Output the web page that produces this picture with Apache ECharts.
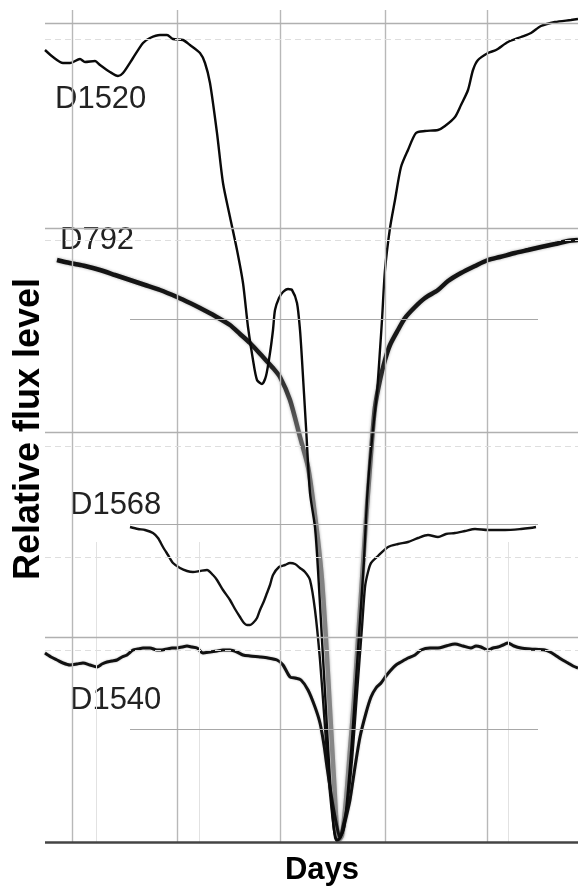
<!DOCTYPE html>
<html>
<head>
<meta charset="utf-8">
<script src="https://cdn.jsdelivr.net/npm/echarts@6/dist/echarts.min.js"></script>
<style>html,body{margin:0;padding:0;background:#fff}#c{width:578px;height:888px}</style>
</head>
<body>
<div id="c"></div>
<script>
// ---- data (days, relative flux; arbitrary units) ----
const d1520Days = [0,0.8,1.8,2.5,3.5,4.0,5.0,5.5,6.5,7.3,7.8,8.8,9.8,10.5,11.5,12.2,12.8,13.8,14.5,15.5,16.0,16.5,17.2,17.8,18.5,19.2,19.8,20.3,20.8,21.2,21.7,22.1,22.5,22.8,23.0,23.4,23.8,24.3,24.7,25.2,25.5,25.7,26.1,26.5,27.0,27.3,27.7,28.1,28.5,28.9,29.2,29.5,29.9,30.3,30.7,31.1,31.5,31.9,32.2,32.5,32.9,33.2,33.5,33.7,34.0,34.5,35.0,35.6,36.3,37.1,38.0,39.3,40.0,41.0,41.6,42.3,42.8,43.3,44.3,45.1,46.3,47.6,48.6,49.6,51.0,52.6,53.3];
const d1520Flux = [3.96,3.925,3.895,3.895,3.915,3.90,3.905,3.885,3.85,3.83,3.845,3.92,3.995,4.02,4.035,4.035,4.015,4.01,3.985,3.945,3.895,3.795,3.545,3.295,3.125,2.96,2.795,2.575,2.41,2.31,2.29,2.33,2.445,2.56,2.66,2.72,2.75,2.765,2.76,2.695,2.56,2.41,2.075,1.745,1.575,1.36,1.01,0.66,0.31,0.06,0.01,0.02,0.07,0.26,0.51,0.81,1.11,1.41,1.71,1.91,2.11,2.245,2.46,2.61,2.86,3.07,3.21,3.375,3.46,3.545,3.555,3.56,3.58,3.625,3.685,3.76,3.86,3.91,3.945,3.96,4.0,4.025,4.045,4.08,4.10,4.11,4.115];

const d792Days = [1.2,2.0,3.0,4.0,5.5,7.0,8.5,10.0,11.5,13.2,14.5,15.5,17.0,18.5,19.5,20.5,21.8,22.8,23.5,24.5,25.5,26.3,26.8,27.3,27.7,28.1,28.5,28.9,29.2,29.4,29.7,30.1,30.5,30.9,31.3,31.7,32.1,32.4,32.7,33.0,33.5,34.0,34.5,35.3,36.0,37.0,38.0,39.3,40.3,41.6,43.0,44.3,45.5,47.0,48.3,49.6,51.0,52.3,53.3];
const d792Flux = [2.91,2.90,2.89,2.88,2.86,2.835,2.81,2.785,2.76,2.725,2.695,2.67,2.63,2.585,2.54,2.495,2.425,2.37,2.325,2.21,2.025,1.875,1.71,1.51,1.31,1.01,0.66,0.31,0.06,0.01,0.035,0.21,0.46,0.71,1.01,1.31,1.61,1.81,2.01,2.175,2.31,2.41,2.485,2.56,2.62,2.675,2.72,2.76,2.805,2.845,2.88,2.91,2.925,2.945,2.96,2.975,2.99,3.005,3.01];

const d1568Days = [8.5,9.3,10.0,10.8,11.3,11.8,12.3,12.8,13.5,14.2,14.8,15.5,16.2,16.8,17.2,17.8,18.5,19.0,19.5,19.9,20.2,20.5,20.8,21.2,21.5,21.9,22.2,22.5,22.8,23.4,24.0,24.5,25.0,25.5,26.0,26.5,27.0,27.5,28.0,28.5,29.0,29.2,29.5,29.8,30.2,30.7,31.2,31.7,32.0,32.3,32.6,33.3,34.3,35.3,36.3,37.3,38.3,39.3,40.1,41.0,42.0,43.0,44.3,46.0,47.6,48.5,49.1];
const d1568Flux = [1.575,1.565,1.56,1.545,1.52,1.475,1.435,1.395,1.37,1.355,1.35,1.355,1.36,1.335,1.31,1.26,1.21,1.165,1.125,1.095,1.085,1.085,1.095,1.12,1.16,1.205,1.245,1.285,1.335,1.375,1.385,1.395,1.39,1.37,1.35,1.31,1.16,0.91,0.575,0.245,0.025,0.005,0.02,0.085,0.175,0.41,0.745,1.075,1.275,1.35,1.395,1.43,1.475,1.49,1.50,1.52,1.535,1.525,1.54,1.545,1.555,1.565,1.56,1.56,1.565,1.57,1.575];

const d1540Days = [0,0.6,1.2,1.8,2.5,3.2,3.8,4.5,5.2,5.7,6.2,6.7,7.2,7.7,8.2,8.8,9.3,9.8,10.5,11.2,11.7,12.2,12.7,13.2,13.7,14.2,14.7,15.2,15.8,16.5,17.2,17.8,18.5,19.2,19.8,20.5,21.5,22.3,23.2,23.8,24.5,25.0,25.6,26.3,27.0,27.5,27.9,28.2,28.7,29.2,29.5,29.8,30.1,30.5,31.0,31.5,32.1,32.6,33.1,33.6,34.1,34.6,35.1,35.6,36.3,37.0,37.6,38.5,39.3,40.1,41.0,41.8,42.6,43.1,43.6,44.3,44.8,45.3,45.8,46.3,46.9,47.6,48.5,50.0,50.5,51.0,51.6,52.3,52.8,53.3];
const d1540Flux = [0.945,0.925,0.91,0.895,0.885,0.89,0.895,0.885,0.875,0.89,0.90,0.905,0.91,0.925,0.935,0.96,0.965,0.97,0.97,0.96,0.96,0.965,0.97,0.97,0.975,0.98,0.975,0.97,0.945,0.95,0.955,0.96,0.96,0.95,0.935,0.93,0.925,0.92,0.91,0.885,0.825,0.82,0.81,0.76,0.675,0.595,0.485,0.375,0.21,0.075,0.02,0.06,0.12,0.21,0.375,0.525,0.645,0.725,0.77,0.795,0.83,0.86,0.885,0.90,0.92,0.935,0.96,0.97,0.97,0.98,0.99,0.98,0.97,0.98,0.975,0.96,0.97,0.975,0.985,0.995,0.98,0.97,0.965,0.96,0.95,0.935,0.915,0.895,0.88,0.87];

// grid / reference lines
const mainGridDays = [2.7, 13.2, 23.5, 34.0, 44.2];
const mainGridFlux = [1.025, 2.05, 3.07, 4.095];
const partialGridFlux = [0.565, 1.59, 2.615];
const partialGridSpan = [8.5, 49.3];
const faintGridFlux = [4.015, 3.01, 1.98, 1.425, 0.96];
const faintGridDays = [5.1, 15.4, 46.3];
const seriesNames = ['D1520', 'D792', 'D1568', 'D1540'];

const X_MIN = 0, X_MAX = 53.3, Y_MIN = 0, Y_MAX = 4.21;

function zip(xs, ys) { const n = Math.min(xs.length, ys.length); const r = []; for (let i = 0; i < n; i++) r.push([xs[i], ys[i]]); return r; }
function seg(x1, y1, x2, y2, style) { return [{ coord: [x1, y1], lineStyle: style }, { coord: [x2, y2] }]; }

const gridLines = [];
mainGridDays.forEach(d => gridLines.push(seg(d, 0, d, 4.16, { color: '#b8b8b8', width: 1.4, type: 'solid' })));
faintGridDays.forEach(d => gridLines.push(seg(d, 0, d, 1.5, { color: '#e2e2e2', width: 1, type: 'solid' })));
mainGridFlux.forEach(f => gridLines.push(seg(X_MIN, f, X_MAX, f, { color: '#b0b0b0', width: 1.4, type: 'solid' })));
partialGridFlux.forEach(f => gridLines.push(seg(partialGridSpan[0], f, partialGridSpan[1], f, { color: '#a8a8a8', width: 1, type: 'solid' })));
faintGridFlux.forEach(f => gridLines.push(seg(X_MIN, f, X_MAX, f, { color: '#dedede', width: 1, type: [6, 4] })));
gridLines.push(seg(X_MIN, 0, X_MAX, 0, { color: '#444', width: 2.5, type: 'solid' }));

const chart = echarts.init(document.getElementById('c'), null, { renderer: 'canvas' });
const lineBase = { type: 'line', showSymbol: false, symbol: 'none', smooth: 0.25, silent: true, animation: false, clip: true };

chart.setOption({
  animation: false,
  backgroundColor: '#fff',
  grid: { left: 45, right: 0, top: 0, bottom: 46, containLabel: false },
  xAxis: { type: 'value', min: X_MIN, max: X_MAX, axisLine: { show: false }, axisTick: { show: false }, axisLabel: { show: false }, splitLine: { show: false } },
  yAxis: { type: 'value', min: Y_MIN, max: Y_MAX, axisLine: { show: false }, axisTick: { show: false }, axisLabel: { show: false }, splitLine: { show: false } },
  series: [
    Object.assign({}, lineBase, { name: 'grid', data: [], z: 1,
      markLine: { silent: true, symbol: ['none', 'none'], label: { show: false }, animation: false, data: gridLines } }),
    Object.assign({}, lineBase, { name: seriesNames[1], data: zip(d792Days, d792Flux), z: 2,
      lineStyle: { width: 4.5, shadowBlur: 3, shadowColor: 'rgba(0,0,0,0.35)',
        color: new echarts.graphic.LinearGradient(0, 0, 0, 1, [
          { offset: 0, color: '#111' }, { offset: 0.2, color: '#1a1a1a' },
          { offset: 0.3, color: '#555' }, { offset: 0.45, color: '#808080' }, { offset: 1, color: '#8a8a8a' }]) } }),
    Object.assign({}, lineBase, { name: seriesNames[3], data: zip(d1540Days, d1540Flux), z: 3,
      lineStyle: { width: 3, color: '#111', shadowBlur: 2, shadowColor: 'rgba(0,0,0,0.3)' } }),
    Object.assign({}, lineBase, { name: seriesNames[2], data: zip(d1568Days, d1568Flux), z: 3,
      lineStyle: { width: 2.4, color: '#111' } }),
    Object.assign({}, lineBase, { name: seriesNames[0], data: zip(d1520Days, d1520Flux), z: 4,
      lineStyle: { width: 2.4, color: '#0a0a0a' } })
  ],
  graphic: [
    { type: 'text', left: 55, top: 84, style: { text: seriesNames[0], font: '31px "Liberation Sans", Arial, sans-serif', fill: '#222' } },
    { type: 'text', left: 60, top: 225, style: { text: seriesNames[1], font: '31px "Liberation Sans", Arial, sans-serif', fill: '#222' } },
    { type: 'text', left: 70, top: 490, style: { text: seriesNames[2], font: '31px "Liberation Sans", Arial, sans-serif', fill: '#222' } },
    { type: 'text', left: 70, top: 685, style: { text: seriesNames[3], font: '31px "Liberation Sans", Arial, sans-serif', fill: '#222' } },
    { type: 'text', x: 29, y: 429, rotation: Math.PI / 2,
      style: { text: 'Relative flux level', font: 'bold 36px "Liberation Sans", Arial, sans-serif', fill: '#000', align: 'center', verticalAlign: 'middle' } },
    { type: 'text', x: 322, y: 870,
      style: { text: 'Days', font: 'bold 31px "Liberation Sans", Arial, sans-serif', fill: '#000', align: 'center', verticalAlign: 'middle' } }
  ]
});
</script>
</body>
</html>
